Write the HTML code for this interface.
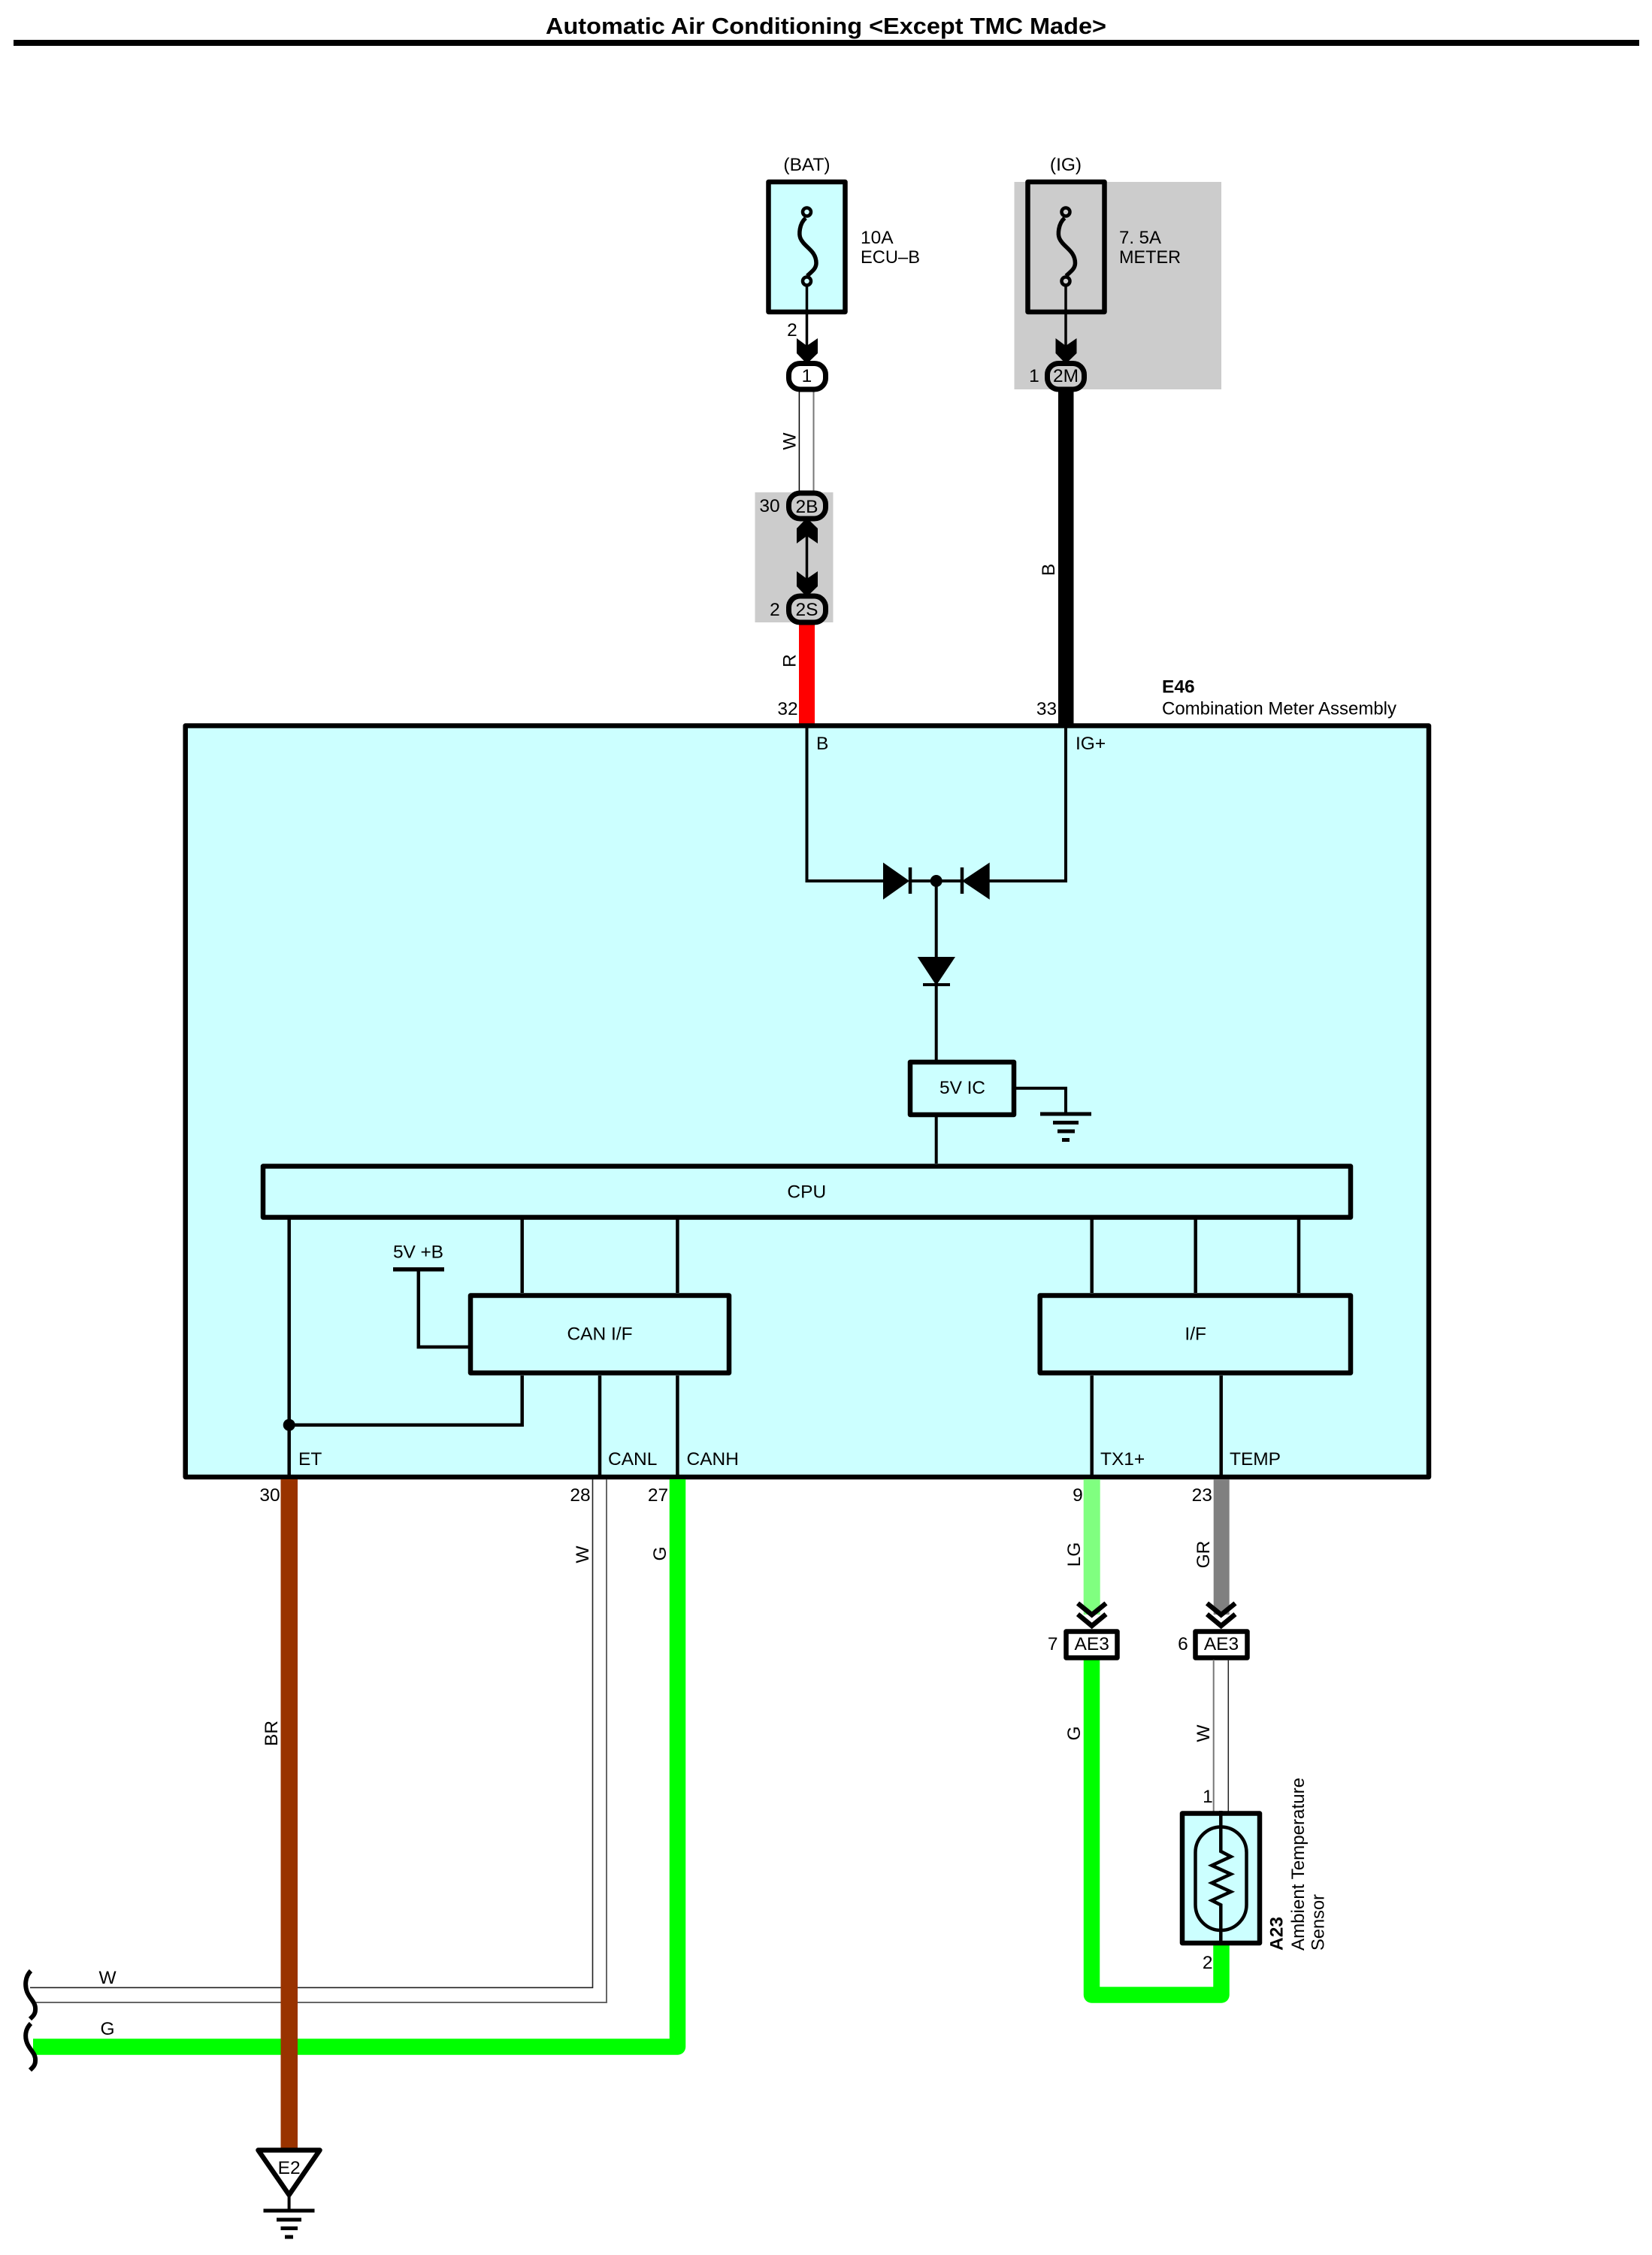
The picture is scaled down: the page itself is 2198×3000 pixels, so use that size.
<!DOCTYPE html>
<html><head><meta charset="utf-8"><title>Automatic Air Conditioning</title>
<style>
html,body{margin:0;padding:0;background:#fff;width:2198px;height:3000px;overflow:hidden}
svg{display:block}
text{font-family:"Liberation Sans",sans-serif;font-size:24.5px;fill:#000}
.m{text-anchor:middle}
.b{font-weight:bold}
.k{stroke:#000;fill:none;stroke-linecap:butt;stroke-linejoin:miter}
.box{stroke:#000;stroke-width:6.5;fill:#ccffff;stroke-linejoin:round}
</style></head><body>
<svg width="2198" height="3000" viewBox="0 0 2198 3000" xmlns="http://www.w3.org/2000/svg">
<rect width="2198" height="3000" fill="#fff"/>
<text class="b" x="726" y="45" style="font-size:31px" textLength="746" lengthAdjust="spacingAndGlyphs">Automatic Air Conditioning &lt;Except TMC Made&gt;</text>
<rect x="18" y="53" width="2163" height="8" fill="#000"/>

<!-- gray zones -->
<rect x="1349.5" y="242" width="275.5" height="276" fill="#cccccc"/>
<rect x="1004.5" y="655" width="104" height="173" fill="#cccccc"/>

<!-- Fuses -->
<rect class="box" x="1022.5" y="242" width="102" height="173"/>
<rect class="box" style="fill:#cccccc" x="1367.5" y="242" width="102" height="173"/>
<path class="k" stroke-width="5.5" stroke-linecap="round" d="M1072 290C1063 298,1063 312,1065 317C1070 329,1086 333,1086 350C1086 358,1079 362,1074 367"/>
<circle cx="1073.5" cy="282" r="5.5" fill="#ccffff" stroke="#000" stroke-width="4.5"/>
<circle cx="1073.5" cy="374" r="5.5" fill="#ccffff" stroke="#000" stroke-width="4.5"/>
<path class="k" stroke-width="5.5" stroke-linecap="round" d="M1416.5 290C1407.5 298,1407.5 312,1409.5 317C1414.5 329,1430.5 333,1430.5 350C1430.5 358,1423.5 362,1418.5 367"/>
<circle cx="1418" cy="282" r="5.5" fill="#cccccc" stroke="#000" stroke-width="4.5"/>
<circle cx="1418" cy="374" r="5.5" fill="#cccccc" stroke="#000" stroke-width="4.5"/>
<path class="k" stroke-width="3.5" d="M1073.5 380V470M1418 380V470M1073.5 700V780"/>

<text class="m" x="1073.5" y="227">(BAT)</text>
<text class="m" x="1418" y="227">(IG)</text>
<text x="1145" y="324">10A</text>
<text x="1145" y="350" textLength="79" lengthAdjust="spacingAndGlyphs">ECU–B</text>
<text x="1489" y="324" textLength="56" lengthAdjust="spacingAndGlyphs">7. 5A</text>
<text x="1489" y="350" textLength="82" lengthAdjust="spacingAndGlyphs">METER</text>

<!-- arrows -->
<path d="M1060 450L1073.5 460L1088 450V470L1073.5 484L1060 470Z"/>
<path d="M1404.5 450L1418 460L1432.5 450V470L1418 484L1404.5 470Z"/>
<path d="M1060 723L1073.5 713L1088 723V703L1073.5 689L1060 703Z"/>
<path d="M1060 760L1073.5 770L1088 760V780L1073.5 794L1060 780Z"/>

<!-- wires top -->
<path d="M1063.4 521V655" stroke="#000" stroke-width="1.5" fill="none"/>
<path d="M1082.5 521V655" stroke="#777" stroke-width="2" fill="none"/>
<rect x="1408" y="518" width="20.5" height="447" fill="#000"/>
<rect x="1063" y="828" width="21" height="136" fill="#ff0000"/>

<!-- connectors -->
<rect x="1049.5" y="483.5" width="49" height="34.5" rx="15" fill="#fff" stroke="#000" stroke-width="7"/>
<rect x="1393.5" y="483.5" width="49" height="34.5" rx="15" fill="#cccccc" stroke="#000" stroke-width="7"/>
<rect x="1049.5" y="656" width="49" height="34" rx="15" fill="#cccccc" stroke="#000" stroke-width="7"/>
<rect x="1049.5" y="793" width="49" height="35" rx="15" fill="#cccccc" stroke="#000" stroke-width="7"/>
<text class="m" x="1073.5" y="508">1</text>
<text class="m" x="1418" y="508">2M</text>
<text class="m" x="1073.5" y="682">2B</text>
<text class="m" x="1073.5" y="819">2S</text>
<text class="m" x="1054" y="447">2</text>
<text class="m" x="1376" y="508">1</text>
<text class="m" x="1024" y="681">30</text>
<text class="m" x="1031" y="819">2</text>
<text class="m" x="1048" y="951">32</text>
<text class="m" x="1392.5" y="951">33</text>
<text class="m" transform="translate(1058.5 587) rotate(-90)">W</text>
<text class="m" transform="translate(1058.5 879) rotate(-90)">R</text>
<text class="m" transform="translate(1403 758) rotate(-90)">B</text>

<!-- Main box -->
<text class="b" x="1546" y="921.5">E46</text>
<text x="1546" y="950.5" textLength="312" lengthAdjust="spacingAndGlyphs">Combination Meter Assembly</text>
<rect class="box" x="246.7" y="965.5" width="1654.3" height="999.5"/>

<!-- internal lines -->
<path class="k" stroke-width="4" d="M1073.5 965V1172H1175M1418 965V1172H1316M1210 1172H1280"/>
<path class="k" stroke-width="4" d="M1245.7 1172V1410M1245.7 1486V1548"/>
<path d="M1175 1147.5L1210 1172L1175 1196.7Z"/>
<path d="M1316.7 1147.5L1280 1172L1316.7 1196.7Z"/>
<path class="k" stroke-width="4.5" stroke-linecap="round" d="M1211 1154V1189M1280 1154V1189"/>
<circle cx="1245.7" cy="1172" r="8"/>
<path d="M1220.7 1273H1271L1245.7 1311Z"/>
<path class="k" stroke-width="4" stroke-linecap="round" d="M1228 1310H1264"/>
<text x="1086" y="997">B</text>
<text x="1431" y="997">IG+</text>

<rect class="box" x="1211" y="1413" width="138" height="70"/>
<text x="1250" y="1455" textLength="61" lengthAdjust="spacing">5V IC</text>
<path class="k" stroke-width="4" d="M1352 1447.7H1418V1482"/>
<path class="k" stroke-width="5" stroke-linecap="round" d="M1384 1482H1452M1401 1493.5H1435M1407 1505H1430M1413 1516.5H1423"/>

<!-- CPU -->
<rect class="box" x="350" y="1551.5" width="1447" height="68"/>
<text class="m" x="1073.3" y="1593.3">CPU</text>

<path class="k" stroke-width="4.5" d="M384.7 1622V1965M694.7 1622V1720M901.4 1622V1720M1452.7 1622V1720M1590.7 1622V1720M1728 1622V1720"/>
<path class="k" stroke-width="4.5" stroke-linejoin="round" d="M694.7 1830V1895.7H384.7"/>
<circle cx="384.7" cy="1895.7" r="8"/>
<path class="k" stroke-width="4.5" d="M798 1830V1965M901.4 1830V1965M1452.7 1830V1965M1624.7 1830V1965"/>
<path class="k" stroke-width="4.5" d="M556.8 1688.7V1792H623"/>
<path class="k" stroke-width="5.5" stroke-linecap="round" d="M523 1688.7H591"/>
<text x="523" y="1673.3" textLength="67" lengthAdjust="spacing">5V +B</text>

<rect class="box" x="626" y="1723.5" width="344" height="103"/>
<text class="m" x="798" y="1782.7">CAN I/F</text>
<rect class="box" x="1383.7" y="1723.5" width="413.3" height="103"/>
<text class="m" x="1590.7" y="1782.7">I/F</text>

<text x="397" y="1949">ET</text>
<text x="809" y="1949">CANL</text>
<text x="913.5" y="1949">CANH</text>
<text x="1464" y="1949">TX1+</text>
<text x="1636" y="1949" textLength="68" lengthAdjust="spacing">TEMP</text>

<!-- lower left wires -->
<path d="M40 2644.3H788.5V1968" stroke="#222" stroke-width="1.6" fill="none"/>
<path d="M48 2664H807V1968" stroke="#666" stroke-width="2" fill="none"/>
<path d="M901.5 1968V2723H44" stroke="#00ff00" stroke-width="21.5" fill="none" stroke-linejoin="round"/>
<rect x="373.5" y="1968" width="22.5" height="890" fill="#993300"/>
<path class="k" stroke-width="6" stroke-linecap="round" d="M41 2622C33 2630,33 2642,36 2650C40 2660,48 2664,47 2674C47 2680,43 2683,40 2686"/>
<path class="k" stroke-width="6" stroke-linecap="round" d="M41 2692C33 2700,33 2710,36 2718C40 2728,48 2732,47 2742C47 2748,43 2751,40 2754"/>
<text class="m" x="143" y="2639">W</text>
<text class="m" x="143" y="2707">G</text>
<text class="m" x="359" y="1997">30</text>
<text class="m" x="772" y="1997">28</text>
<text class="m" x="875.5" y="1997">27</text>
<text class="m" transform="translate(783 2068) rotate(-90)">W</text>
<text class="m" transform="translate(886 2067) rotate(-90)">G</text>
<text class="m" transform="translate(369 2306) rotate(-90)">BR</text>

<!-- E2 ground -->
<path d="M343.5 2860.5H425.5L384.6 2920Z" fill="#fff" stroke="#000" stroke-width="6.5" stroke-linejoin="round"/>
<text class="m" x="384.6" y="2892">E2</text>
<path class="k" stroke-width="4" d="M384.6 2922V2941"/>
<path class="k" stroke-width="5" stroke-linecap="round" d="M350.5 2941H418.5M368 2953H401M373.5 2964.5H396M379 2976H390"/>

<!-- right lower wires -->
<rect x="1441.7" y="1968" width="22" height="180" fill="#80ff80"/>
<rect x="1614.7" y="1968" width="21" height="180" fill="#808080"/>
<path class="k" stroke-width="6.5" stroke-linecap="round" d="M1434 2133L1452.7 2148.3L1471.5 2133M1434 2147.5L1452.7 2163L1471.5 2147.5"/>
<path class="k" stroke-width="6.5" stroke-linecap="round" d="M1606 2133L1624.7 2148.3L1643.5 2133M1606 2147.5L1624.7 2163L1643.5 2147.5"/>
<path d="M1452.5 2205V2654H1625V2585" stroke="#00ff00" stroke-width="21.5" fill="none" stroke-linejoin="round"/>
<rect x="1418.5" y="2170.5" width="68" height="35" fill="#fff" stroke="#000" stroke-width="6.5" stroke-linejoin="round"/>
<rect x="1590.5" y="2170.5" width="69" height="35" fill="#fff" stroke="#000" stroke-width="6.5" stroke-linejoin="round"/>
<text class="m" x="1452.7" y="2195">AE3</text>
<text class="m" x="1625" y="2195">AE3</text>
<text class="m" x="1400.7" y="2195">7</text>
<text class="m" x="1574" y="2195">6</text>
<text class="m" x="1434" y="1997">9</text>
<text class="m" x="1599.3" y="1997">23</text>
<text class="m" transform="translate(1437 2068) rotate(-90)">LG</text>
<text class="m" transform="translate(1609 2068) rotate(-90)">GR</text>
<text class="m" transform="translate(1437 2306) rotate(-90)">G</text>
<text class="m" transform="translate(1609 2306) rotate(-90)">W</text>
<path d="M1614.7 2208V2410" stroke="#777" stroke-width="2" fill="none"/>
<path d="M1634.3 2208V2410" stroke="#222" stroke-width="1.5" fill="none"/>

<!-- Sensor -->
<rect class="box" x="1573" y="2412.5" width="103" height="172.5"/>
<rect x="1590.5" y="2430.5" width="68" height="137.5" rx="34" fill="#ccffff" stroke="#000" stroke-width="4.5"/>
<path class="k" stroke-width="4.5" d="M1624.3 2409V2463L1637.7 2470L1612.3 2481.7L1637.7 2493.3L1612.3 2505L1637.7 2516.7L1612.3 2528.3L1624.3 2534.3V2588"/>
<text class="m" x="1607" y="2398">1</text>
<text class="m" x="1606.7" y="2619">2</text>
<text class="b" transform="translate(1706.7 2595) rotate(-90)">A23</text>
<text transform="translate(1735 2595) rotate(-90)" textLength="230" lengthAdjust="spacingAndGlyphs">Ambient Temperature</text>
<text transform="translate(1761.7 2595) rotate(-90)" textLength="75" lengthAdjust="spacingAndGlyphs">Sensor</text>
</svg>
</body></html>
